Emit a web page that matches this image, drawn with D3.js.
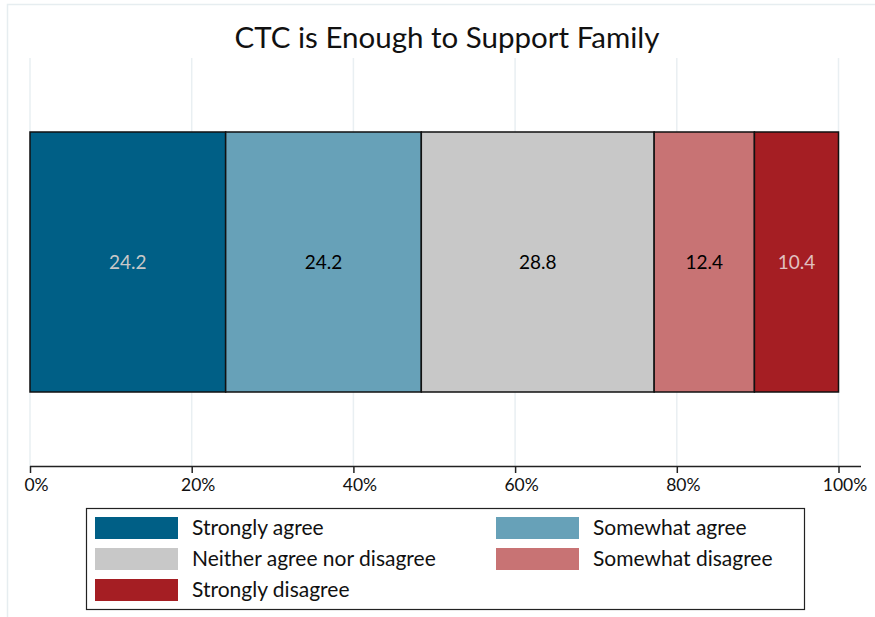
<!DOCTYPE html>
<html>
<head>
<meta charset="utf-8">
<script src="https://cdn.jsdelivr.net/npm/d3@7"></script>
<style>
  html, body { margin: 0; padding: 0; background: #fff; }
  svg { display: block; font-family: "Source Sans Pro", Lato, "Noto Sans", sans-serif; }
</style>
</head>
<body>
<svg id="chart" width="875" height="617"></svg>
<script>
// Survey response shares (percent) for one stacked bar
const categories = ["Strongly agree", "Somewhat agree", "Neither agree nor disagree", "Somewhat disagree", "Strongly disagree"];
const values = [24.2, 24.2, 28.8, 12.4, 10.4];
const colors = ["#005f86", "#67a1b8", "#c8c8c8", "#c87374", "#a51e23"];
const labelColors = ["#c8c8c8", "#000000", "#000000", "#000000", "#e0c0c0"];
const tickValues = [0, 20, 40, 60, 80, 100];
const title = "CTC is Enough to Support Family";

const svg = d3.select("#chart");
const W = 875, H = 617;

// light outer frame
svg.append("path")
  .attr("d", `M7.5,${H} V4.5 H${W}`)
  .attr("fill", "none").attr("stroke", "#e6edf0").attr("stroke-width", 1.5);

const x = d3.scaleLinear().domain([0, 100]).range([30, 838.5]);
const y = d3.scaleBand().domain(["bar"]).range([58, 466]).paddingInner(0).paddingOuter(0.2846);

// vertical grid lines
svg.append("g").selectAll("line").data(tickValues).join("line")
  .attr("x1", d => x(d)).attr("x2", d => x(d))
  .attr("y1", 58).attr("y2", 466)
  .attr("stroke", "#e9eff2").attr("stroke-width", 1.5);

// stacked segments
const stackData = [];
let acc = 0;
values.forEach((v, i) => { stackData.push({ cat: categories[i], v, x0: acc, x1: acc + v, i }); acc += v; });

const bars = svg.append("g");
bars.selectAll("rect").data(stackData).join("rect")
  .attr("x", d => x(d.x0)).attr("width", d => x(d.x1) - x(d.x0))
  .attr("y", y("bar")).attr("height", y.bandwidth())
  .attr("fill", d => colors[d.i])
  .attr("stroke", "#111").attr("stroke-width", 1.5);

bars.selectAll("text").data(stackData).join("text")
  .attr("x", d => x((d.x0 + d.x1) / 2))
  .attr("y", y("bar") + y.bandwidth() / 2)
  .attr("dy", "0.35em")
  .attr("text-anchor", "middle")
  .attr("font-size", 19)
  .attr("fill", d => labelColors[d.i])
  .text(d => d.v.toFixed(1));

// x axis
const axis = d3.axisBottom(x).tickValues(tickValues).tickFormat(d => d + "%").tickSize(7).tickPadding(6);
const gx = svg.append("g").attr("transform", "translate(0,466)").call(axis);
gx.select(".domain").attr("d", `M${x(0)},0.5H861`).attr("stroke", "#222").attr("stroke-width", 1.5);
gx.selectAll(".tick line").attr("stroke", "#222").attr("stroke-width", 1.5);
gx.selectAll(".tick text").attr("font-size", 17.5).attr("fill", "#111")
  .attr("font-family", "\"Source Sans Pro\", Lato, \"Noto Sans\", sans-serif")
  .attr("dx", 6);

// title
svg.append("text")
  .attr("x", 447).attr("y", 48)
  .attr("text-anchor", "middle")
  .attr("font-size", 29.5).attr("fill", "#111")
  .text(title);

// legend
const legend = svg.append("g");
legend.append("rect")
  .attr("x", 86.5).attr("y", 508.5).attr("width", 718).attr("height", 101)
  .attr("fill", "#fff").attr("stroke", "#222").attr("stroke-width", 1.2);

const cols = [95, 496];
const legendItems = categories.map((c, i) => ({ c, i, col: i % 2, row: Math.floor(i / 2) }));
const li = legend.selectAll("g.item").data(legendItems).join("g").attr("class", "item")
  .attr("transform", d => `translate(${cols[d.col]},${517 + d.row * 31})`);
li.append("rect").attr("width", 83).attr("height", 22).attr("fill", d => colors[d.i]);
li.append("text").attr("x", 97).attr("y", 11).attr("dy", "0.35em")
  .attr("font-size", 21).attr("fill", "#111").text(d => d.c);
</script>
</body>
</html>
